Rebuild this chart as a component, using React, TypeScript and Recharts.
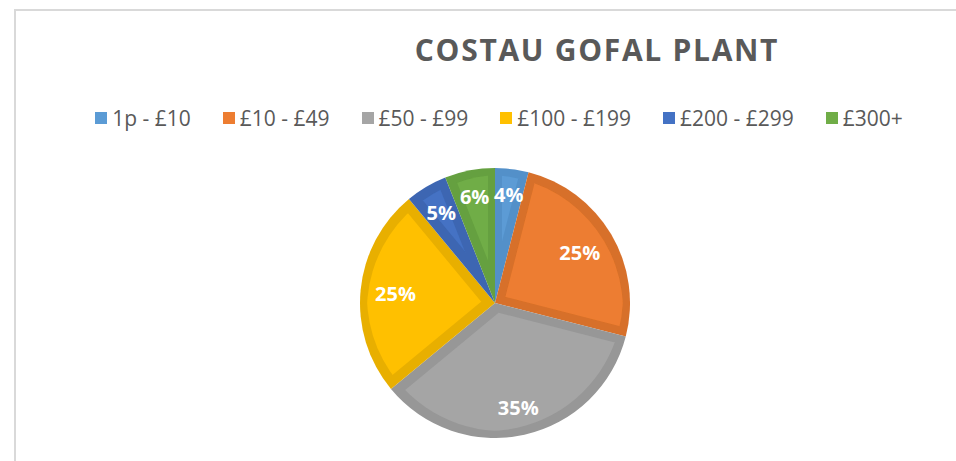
import React from 'react';
import { PieChart, Pie, Cell } from 'recharts';

const categories = ['1p - £10', '£10 - £49', '£50 - £99', '£100 - £199', '£200 - £299', '£300+'];
const values = [4, 25, 35, 25, 5, 6];
const fillColors = ['#5B9BD5', '#ED7D31', '#A5A5A5', '#FFC000', '#4472C4', '#70AD47'];
const edgeColors = ['#5390C9', '#D7702C', '#979797', '#E8AF00', '#3E66B2', '#65A03F'];

const data = categories.map((name, i) => ({ name, value: values[i] }));
const total = values.reduce((a, b) => a + b, 0);

const RAD = Math.PI / 180;

const renderLabel = (props: any) => {
  const { cx, cy, midAngle, outerRadius, value } = props;
  const text = `${Math.round((value / total) * 100)}%`;
  const w = text.length * 13.5;
  const h = 20;
  const s = Math.sin(-midAngle * RAD);
  const c = Math.cos(-midAngle * RAD);
  const ext = Math.abs((w / 2) * c) + Math.abs((h / 2) * s);
  const r = outerRadius - 14 - ext;
  const x = cx + r * c;
  const y = cy + r * s;
  return (
    <text
      x={x}
      y={y}
      fill="#FFFFFF"
      textAnchor="middle"
      dominantBaseline="central"
      fontFamily="'Open Sans', sans-serif"
      fontWeight={700}
      fontSize={20}
    >
      {text}
    </text>
  );
};

export default function App() {
  return (
    <div style={{ position: 'absolute', left: 0, top: 0, width: 956, height: 461, background: '#fff', overflow: 'hidden' }}>
      <svg width={0} height={0} style={{ position: 'absolute' }}>
        <defs>
          {fillColors.map((col, i) => (
            <filter key={i} id={`inset${i}`} x="-10%" y="-10%" width="120%" height="120%">
              <feMorphology in="SourceAlpha" operator="erode" radius={7} result="er" />
              <feFlood floodColor={col} result="fl" />
              <feComposite in="fl" in2="er" operator="in" result="inner" />
              <feMerge>
                <feMergeNode in="SourceGraphic" />
                <feMergeNode in="inner" />
              </feMerge>
            </filter>
          ))}
        </defs>
      </svg>
      <div style={{ position: 'absolute', left: 14, top: 9, width: 1.5, height: 461, background: '#D9D9D9' }} />
      <div style={{ position: 'absolute', left: 14, top: 9, width: 956, height: 1.5, background: '#D9D9D9' }} />
      <div
        style={{
          position: 'absolute',
          left: 597 - 250,
          top: 28,
          width: 500,
          textAlign: 'center',
          fontFamily: "'Open Sans', sans-serif",
          fontWeight: 700,
          fontSize: 30,
          letterSpacing: 1.7,
          color: '#595959',
          lineHeight: '44px',
        }}
      >
        COSTAU GOFAL PLANT
      </div>
      <div
        style={{
          position: 'absolute',
          left: 0,
          top: 104,
          width: 998,
          display: 'flex',
          justifyContent: 'center',
          alignItems: 'center',
          gap: 32,
          fontFamily: "'Open Sans', sans-serif",
          fontSize: 21,
          color: '#595959',
          lineHeight: '28px',
        }}
      >
        {categories.map((c, i) => (
          <div key={c} style={{ display: 'flex', alignItems: 'center' }}>
            <span
              style={{
                display: 'inline-block',
                width: 12,
                height: 12,
                background: fillColors[i],
                marginRight: 5,
              }}
            />
            <span>{c}</span>
          </div>
        ))}
      </div>
      <div style={{ position: 'absolute', left: 0, top: 0 }}>
        <PieChart width={956} height={461} margin={{ top: 0, right: 0, bottom: 0, left: 0 }}>
          <Pie
            data={data}
            dataKey="value"
            nameKey="name"
            cx={495}
            cy={303}
            outerRadius={135}
            startAngle={90}
            endAngle={-270}
            stroke="none"
            label={renderLabel}
            labelLine={false}
            isAnimationActive={false}
          >
            {data.map((d, i) => (
              <Cell key={d.name} fill={edgeColors[i]} filter={`url(#inset${i})`} />
            ))}
          </Pie>
        </PieChart>
      </div>
    </div>
  );
}
